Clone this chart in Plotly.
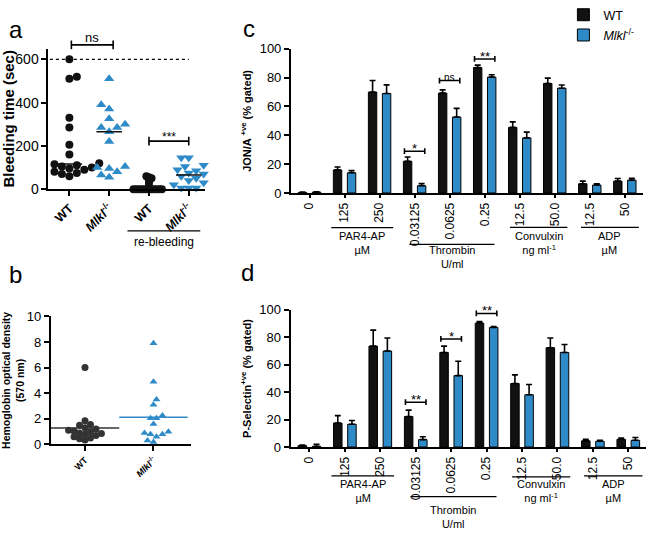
import numpy as np
import plotly.graph_objects as go

W, H = 648, 537
FONT = "Arial, Liberation Sans, sans-serif"
BLUE = "#2e8bc8"
BLACK = "#111111"

# ---------------- data ----------------
# panel a : bleeding time (sec)
a_ticktext = ["<b>WT</b>", "<b><i>Mlkl</i><sup>-/-</sup></b>",
              "<b>WT</b>", "<b><i>Mlkl</i><sup>-/-</sup></b>"]
a_wt = [600, 520, 510, 330, 285, 205, 160, 120, 120, 118, 115, 110, 105, 100, 95, 90, 80, 75, 70, 60]
a_ko = [510, 390, 370, 325, 300, 285, 285, 265, 220, 105, 100, 95, 80, 65, 55]
a_wt_re = [60, 55, 50, 40, 25, 0, 0, 0, 0, 0, 0, 0, 0, 0, 0, 0, 0]
a_ko_re = [145, 145, 110, 105, 90, 85, 75, 70, 60, 50, 40, 30, 20, 5, 5, 5]

# panel b : hemoglobin optical density
b_ticktext = ["<b>WT</b>", "<b><i>Mlkl</i><sup>-/-</sup></b>"]
b_wt = [6.0, 1.85, 1.55, 1.5, 1.3, 1.2, 1.1, 1.05, 1.0, 0.9, 0.85, 0.8, 0.7, 0.6, 0.5, 0.45, 0.35]
b_ko = [7.9, 4.9, 3.5, 3.1, 2.25, 2.05, 2.05, 1.6, 1.0, 0.9, 0.8, 0.8, 0.6, 0.3, 0.2]

# panels c / d : bar charts
cat_labels = ["0", "125", "250", "0.03125", "0.0625", "0.25", "12.5", "50.0", "12.5", "50"]
c_wt = [0.3, 16, 70, 22, 69.3, 87, 45.5, 76, 6.4, 8.2]
c_wt_err = [0.3, 2, 8, 3, 2.2, 1.7, 3.8, 3.7, 1.8, 1.8]
c_ko = [0.6, 14, 69, 5, 52.7, 80.4, 38.2, 72.7, 5.5, 8.9]
c_ko_err = [0.3, 1.5, 6, 1.5, 6, 1.6, 4, 2.2, 0.9, 1.3]
c_sig = [(3, 29, "*"), (4, 78, "ns"), (5, 93, "**")]

d_wt = [1.0, 17.5, 73.6, 22.2, 69, 90.4, 46.3, 72.4, 4.5, 5.6]
d_wt_err = [0.5, 5.4, 11.7, 4.7, 4.6, 1.2, 6.3, 7.1, 1.1, 0.9]
d_ko = [0.5, 16.6, 70, 5.4, 52.1, 87.2, 38.1, 69, 4.2, 4.9]
d_ko_err = [1.5, 2.8, 9.5, 2.1, 10.5, 0.7, 7.5, 5.8, 0.7, 2.1]
d_sig = [(3, 32.7, "**"), (4, 78.8, "*"), (5, 97.4, "**")]

groups = [("PAR4-AP<br>µM", 0.62, 2.39), ("Thrombin<br>U/ml", 2.85, 5.28),
          ("Convulxin<br>ng ml<sup>-1</sup>", 5.72, 7.36), ("ADP<br>µM", 7.75, 9.4)]

# ---------------- layout geometry ----------------
def px2dom(p0, p1, total, flip=False):
    if flip:
        return [1 - p1 / total, 1 - p0 / total]
    return [p0 / total, p1 / total]

A_XR, A_YR = [-0.525, 3.41], [0, 650]
B_XR, B_YR = [-0.5, 1.55], [0, 10]
C_XR, C_YR = [-0.53, 9.52], [0, 100]
D_XR, D_YR = [-0.53, 9.5], [0, 100]

a_xd, a_yd = px2dom(45.7, 203, W), px2dom(37, 183.3, H, True)
b_xd, b_yd = px2dom(48, 189, W), px2dom(315.7, 449, H, True)
c_xd, c_yd = px2dom(289.3, 643, W), px2dom(37.3, 187.3, H, True)
d_xd, d_yd = px2dom(289, 646, W), px2dom(309, 451.7, H, True)


def swarm(vals, center, ppx, ppy, diam):
    order = sorted(range(len(vals)), key=lambda i: vals[i])
    placed, xs = [], [0.0] * len(vals)
    step = diam / 2
    for n, i in enumerate(order):
        py = vals[i] * ppy
        k = 0
        chosen = None
        while chosen is None:
            sgn = 1 if n % 2 == 0 else -1
            cands = [0.0] if k == 0 else [sgn * k * step, -sgn * k * step]
            for c in cands:
                if all((c - qx) ** 2 + (py - qy) ** 2 >= diam ** 2 - 1e-9 for qx, qy in placed):
                    chosen = c
                    break
            k += 1
        placed.append((chosen, py))
        xs[i] = center + chosen / ppx
    return xs


fig = go.Figure()

# ---------------- panel a ----------------
a_ppx = (203 - 45.7) / (A_XR[1] - A_XR[0])
a_ppy = (183.3 - 37) / (A_YR[1] - A_YR[0])
a_sets = [(a_wt, 0, "circle", BLACK, 7.5, 8), (a_ko, 1, "triangle-up", BLUE, 8, 9),
          (a_wt_re, 2, "circle", BLACK, 2.6, 8), (a_ko_re, 3, "triangle-down", BLUE, 7.5, 9)]
for vals, cx, sym, col, diam, size in a_sets:
    fig.add_trace(go.Scatter(x=swarm(vals, cx, a_ppx, a_ppy, diam), y=vals, mode="markers",
                             marker=dict(symbol=sym, color=col, size=size, line=dict(width=0)),
                             cliponaxis=False, showlegend=False, xaxis="x", yaxis="y"))
    med = float(np.median(vals))
    fig.add_trace(go.Scatter(x=[cx - 0.32, cx + 0.32], y=[med, med], mode="lines",
                             line=dict(color=BLACK, width=1.6 if cx != 2 else 3),
                             cliponaxis=False, showlegend=False, xaxis="x", yaxis="y"))

# ---------------- panel b ----------------
b_ppx = (189 - 48) / (B_XR[1] - B_XR[0])
b_ppy = (449 - 315.7) / (B_YR[1] - B_YR[0])
b_sets = [(b_wt, 0, "circle", "#333333", 5.5, 7), (b_ko, 1, "triangle-up", BLUE, 6, 7)]
for vals, cx, sym, col, diam, size in b_sets:
    fig.add_trace(go.Scatter(x=swarm(vals, cx, b_ppx, b_ppy, diam), y=vals, mode="markers",
                             marker=dict(symbol=sym, color=col, size=size, line=dict(width=0)),
                             cliponaxis=False, showlegend=False, xaxis="x2", yaxis="y2"))
    m = float(np.mean(vals))
    fig.add_trace(go.Scatter(x=[cx - 0.5, cx + 0.5], y=[m, m], mode="lines",
                             line=dict(color=col, width=1.5),
                             cliponaxis=False, showlegend=False, xaxis="x2", yaxis="y2"))

# ---------------- panels c, d ----------------
idx = list(range(len(cat_labels)))
for (wt, wte, ko, koe, xa, ya, leg) in [(c_wt, c_wt_err, c_ko, c_ko_err, "x3", "y3", True),
                                         (d_wt, d_wt_err, d_ko, d_ko_err, "x4", "y4", False)]:
    fig.add_trace(go.Bar(x=idx, y=wt, name="WT", marker=dict(color=BLACK, line=dict(color="black", width=1)),
                         error_y=dict(type="data", array=wte, arrayminus=[0] * len(wte), symmetric=False,
                                      color="black", thickness=1.6, width=3),
                         xaxis=xa, yaxis=ya, showlegend=leg, legendgroup="wt"))
    fig.add_trace(go.Bar(x=idx, y=ko, name="<i>Mlkl</i><sup>-/-</sup>",
                         marker=dict(color=BLUE, line=dict(color="black", width=1)),
                         error_y=dict(type="data", array=koe, arrayminus=[0] * len(koe), symmetric=False,
                                      color="black", thickness=1.6, width=3),
                         xaxis=xa, yaxis=ya, showlegend=leg, legendgroup="ko"))

shapes, annots = [], []


def dom(v, rng):
    return (v - rng[0]) / (rng[1] - rng[0])


def bracket(xref, yref, x0, x1, y, cap, text, tsize, xr=None, yr=None, tshift=7):
    if xr is not None:
        X0, X1, Y, C = dom(x0, xr), dom(x1, xr), dom(y, yr), cap / (yr[1] - yr[0])
        xr_, yr_ = xref + " domain", yref + " domain"
    else:
        X0, X1, Y, C = x0, x1, y, cap
        xr_, yr_ = xref, yref
    for (p, q, r, s) in [(X0, Y, X1, Y), (X0, Y - C, X0, Y + C), (X1, Y - C, X1, Y + C)]:
        shapes.append(dict(type="line", xref=xr_, yref=yr_, x0=p, y0=q, x1=r, y1=s,
                           line=dict(color="black", width=1.6)))
    annots.append(dict(xref=xr_, yref=yr_, x=(X0 + X1) / 2, y=Y, text=text, showarrow=False,
                       xanchor="center", yanchor="bottom", yshift=tshift - 6,
                       font=dict(size=tsize, color="black", family=FONT)))


# panel a decorations
shapes.append(dict(type="line", xref="x", yref="y", x0=-0.49, x1=3.0, y0=600, y1=600,
                   line=dict(color="black", width=1.3, dash="dot")))
bracket("x", "y", 0.05, 1.1, 667, 20, "ns", 13, A_XR, A_YR, tshift=4)
bracket("x", "y", 2.0, 3.0, 222, 20, "***", 12, A_XR, A_YR, tshift=1)
shapes.append(dict(type="line", xref="x", yref="paper", x0=1.46, x1=3.29,
                   y0=1 - 226.7 / H, y1=1 - 226.7 / H, line=dict(color="black", width=1.3)))
annots.append(dict(xref="x", yref="paper", x=2.375, y=1 - 238 / H, text="re-bleeding", showarrow=False,
                   xanchor="center", yanchor="middle", font=dict(size=12, color="black", family=FONT)))

# panel c/d decorations
for (sig, xa, ya, ppy) in [(c_sig, "x3", "y3", 1.5), (d_sig, "x4", "y4", 1.427)]:
    for (ci, y, t) in sig:
        bracket(xa, ya, ci - 0.29, ci + 0.29, y, 3 / ppy, t, 10 if t == "ns" else 13,
                tshift=2 if t == "ns" else -1)

for (xa, line_ys, text_ys) in [("x3", [223.3, 240.7, 223, 223], [239.5, 254, 239, 239.5]),
                               ("x4", [481.7, 503.3, 482.7, 481.7], [497.5, 524.5, 497.5, 497.5])]:
    for (g, ly, ty) in zip(groups, line_ys, text_ys):
        label, g0, g1 = g
        shapes.append(dict(type="line", xref=xa, yref="paper", x0=g0, x1=g1,
                           y0=1 - ly / H, y1=1 - ly / H, line=dict(color="black", width=1.2)))
        annots.append(dict(xref=xa, yref="paper", x=(g0 + g1) / 2, y=1 - ty / H, text=label,
                           showarrow=False, xanchor="center", yanchor="middle",
                           font=dict(size=11, color="black", family=FONT)))

# panel letters
for (t, x, y) in [("a", 13, 17), ("b", 13, 272), ("c", 247, 16), ("d", 246, 270)]:
    annots.append(dict(xref="paper", yref="paper", x=x / W, y=1 - y / H, text=t, showarrow=False,
                       xanchor="center", yanchor="middle",
                       font=dict(size=24, color="black", family=FONT)))


def ax(domain, rng, anchor, **kw):
    d = dict(domain=domain, range=rng, anchor=anchor, showline=True, linewidth=2, linecolor="black",
             ticks="outside", ticklen=5, tickwidth=2, tickcolor="black", showgrid=False, zeroline=False,
             tickfont=dict(family=FONT, color="black", size=13), fixedrange=True)
    d.update(kw)
    return d


fig.update_layout(
    width=W, height=H, autosize=False, margin=dict(l=0, r=0, t=0, b=0),
    paper_bgcolor="white", plot_bgcolor="white",
    font=dict(family=FONT, color="black"),
    barmode="group", bargap=0.2, bargroupgap=0.4,
    xaxis=ax(a_xd, A_XR, "y", tickvals=[0, 1, 2, 3], ticktext=a_ticktext, tickangle=-45,
             tickfont=dict(family=FONT, size=12.5, color="black")),
    yaxis=ax(a_yd, A_YR, "x", tickvals=[0, 200, 400, 600], tickfont=dict(family=FONT, size=14, color="black"),
             title=dict(text="<b>Bleeding time (sec)</b>", font=dict(size=15, family=FONT), standoff=4)),
    xaxis2=ax(b_xd, B_XR, "y2", tickvals=[0, 1], ticktext=b_ticktext, tickangle=-45,
              tickfont=dict(family=FONT, size=9, color="black")),
    yaxis2=ax(b_yd, B_YR, "x2", tickvals=[0, 2, 4, 6, 8, 10],
              title=dict(text="<b>Hemoglobin optical density<br>(570 nm)</b>", font=dict(size=10.5, family=FONT),
                         standoff=6)),
    xaxis3=ax(c_xd, C_XR, "y3", tickvals=idx, ticktext=cat_labels, tickangle=-90, ticklen=3,
              tickfont=dict(family=FONT, size=12, color="black")),
    yaxis3=ax(c_yd, C_YR, "x3", tickvals=[0, 20, 40, 60, 80, 100],
              title=dict(text="<b>JON/A <sup>+ve</sup> (% gated)</b>", font=dict(size=11, family=FONT), standoff=6)),
    xaxis4=ax(d_xd, D_XR, "y4", tickvals=idx, ticktext=cat_labels, tickangle=-90, ticklen=3,
              tickfont=dict(family=FONT, size=12, color="black")),
    yaxis4=ax(d_yd, D_YR, "x4", tickvals=[0, 20, 40, 60, 80, 100],
              title=dict(text="<b>P-Selectin<sup>+ve</sup> (% gated)</b>", font=dict(size=11, family=FONT),
                         standoff=6)),
    legend=dict(x=563 / W, y=1.025, xanchor="left", yanchor="top", bgcolor="rgba(0,0,0,0)",
                font=dict(size=12.5, family=FONT, color="black"), tracegroupgap=1, itemwidth=30),
    shapes=shapes, annotations=annots,
)

fig.write_html("out.html", config={"displayModeBar": False},
               post_script="document.body.style.margin='0px';")
